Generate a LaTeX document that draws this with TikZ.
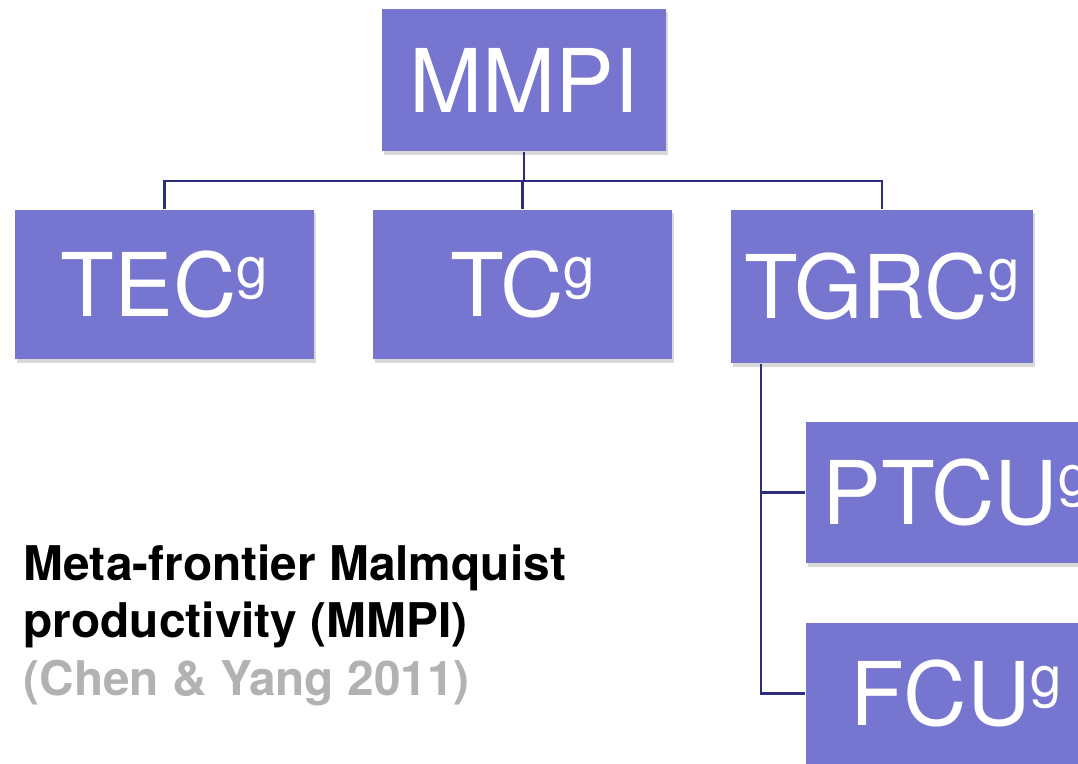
\documentclass[tikz,border=0pt]{standalone}
\usepackage{fontspec}
\setmainfont{TeX Gyre Heros}
\usetikzlibrary{shadows}

\begin{document}
\begin{tikzpicture}[x=0.01cm, y=-0.01cm,
		unitbox/.style={fill=boxblue, text=white, inner sep=0pt,
			minimum width=3cm, minimum height=1.42cm,
			font=\fontsize{25}{25}\selectfont,
			drop shadow={shadow xshift=0.02cm, shadow yshift=-0.035cm, opacity=0.3}},
		link/.style={draw=linknavy, line width=0.6pt}]
		% Colours picked from the slide
		\definecolor{boxblue}{RGB}{118, 117, 208}
		\definecolor{linknavy}{RGB}{45, 45, 125}
		\definecolor{citegray}{RGB}{178, 178, 178}
		\def\gsup{\raisebox{8.3pt}{\fontsize{16}{16}\selectfont g}}
		
		% Frame of the slide, boxes on the right run off the edge
		\clip (0,0) rectangle (1078,763);
		
		% --- Boxes ---
		\node[unitbox, minimum width=2.84cm] (mmpi) at (524,80) {MMPI};
		\node[unitbox, minimum width=2.99cm, minimum height=1.49cm] (tec) at (164.5,284.5) {TEC\gsup};
		\node[unitbox, minimum width=2.98cm, minimum height=1.49cm] (tc) at (522.5,284.5) {TC\gsup};
		\node[unitbox, minimum width=3.02cm, minimum height=1.53cm] (tgrc) at (882,286.5) {TGRC\gsup};
		\node[unitbox, minimum height=1.41cm] (ptcu) at (956,492.5) {PTCU\gsup};
		\node[unitbox, minimum height=1.41cm] (fcu) at (956,693.5) {FCU\gsup};
		
		% --- Connectors ---
		\draw[link] (mmpi.south) -- ++(0,29) coordinate (hub);
		\draw[link] (tec.north) |- (hub) -| (tgrc.north);
		\draw[link] (tc.north) -- (tc.north |- hub);
		\coordinate (stem) at ([xshift=0.31cm]tgrc.south west);
		\draw[link] (stem) |- (ptcu.west);
		\draw[link] (stem) |- (fcu.west);
		
		% --- Caption ---
		% base anchor sits on the last line
		\node[anchor=base west, inner sep=0pt, align=left,
			font=\fontsize{13.6}{16.3}\selectfont\bfseries] (caption) at (23,695)
			{Meta-frontier Malmquist\\ productivity (MMPI)\\ \textcolor{citegray}{(Chen \& Yang 2011)}};
		
	\end{tikzpicture}
\end{document}
